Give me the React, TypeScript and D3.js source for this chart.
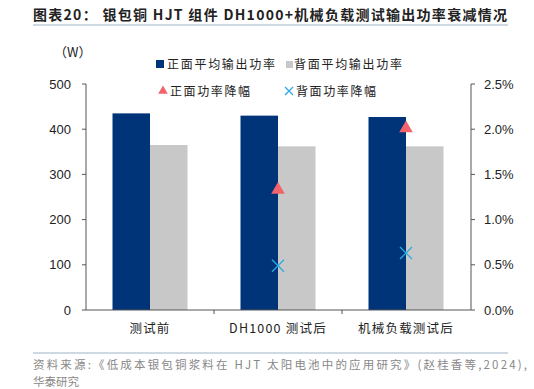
import React from "react";
import * as d3 from "d3";

const categories = ["测试前", "DH1000 测试后", "机械负载测试后"];
const frontPower = [435, 430, 427];
const backPower = [365, 362, 362];
const frontDrop: (number | null)[] = [null, 0.0133, 0.0201];
const backDrop: (number | null)[] = [null, 0.0049, 0.0063];
const leftTicks = [0, 100, 200, 300, 400, 500];
const rightTicks = [0, 0.005, 0.01, 0.015, 0.02, 0.025];

const W = 534, H = 389;
const FONT = "'Liberation Sans', Arial, sans-serif";
const CJK = "'Noto Sans CJK SC', sans-serif";
const NAVY = "#003479";
const GRAY = "#C8C8C8";
const RED = "#F2636B";
const CYAN = "#29ABE2";

export default function App() {
  const x0 = 86, x1 = 471;
  const yTop = 84, yBot = 310;
  const x = d3.scaleBand<string>().domain(categories).range([x0, x1 - 1]).paddingInner(0).paddingOuter(0);
  const yL = d3.scaleLinear().domain([0, 500]).range([yBot, yTop]);
  const yR = d3.scaleLinear().domain([0, 0.025]).range([yBot, yTop]);
  const bw = 37.5;
  const fmtPct = d3.format(".1%");

  return (
    <svg width={W} height={H} style={{ position: "absolute", left: 0, top: 0, background: "#fff" }}>
      <text x={33} y={20} fontFamily={CJK} fontWeight="bold" fontSize={14} fill="#222" textLength={474} lengthAdjust="spacing">
        图表20：  银包铜 HJT 组件 DH1000+机械负载测试输出功率衰减情况
      </text>
      <line x1={33} x2={508} y1={25} y2={25} stroke="#9DB3C8" strokeWidth={1} />

      <text x={54} y={57} fontFamily={CJK} fontSize={13} fill="#222">（W）</text>

      {/* legend */}
      <rect x={156} y={60} width={8} height={8} fill={NAVY} />
      <text x={167} y={68.5} fontFamily={CJK} fontSize={12} fill="#222" textLength={108} lengthAdjust="spacing">正面平均输出功率</text>
      <rect x={286} y={61} width={7} height={7} fill={GRAY} />
      <text x={294} y={68.5} fontFamily={CJK} fontSize={12} fill="#222" textLength={108} lengthAdjust="spacing">背面平均输出功率</text>
      <path d={d3.symbol(d3.symbolTriangle, 40)()!} transform="translate(163,91)" fill={RED} />
      <text x={170} y={96} fontFamily={CJK} fontSize={12} fill="#222" textLength={80} lengthAdjust="spacing">正面功率降幅</text>
      <path d="M-4,-4L4,4M-4,4L4,-4" transform="translate(289,91)" stroke={CYAN} strokeWidth={1.3} fill="none" />
      <text x={296} y={96} fontFamily={CJK} fontSize={12} fill="#222" textLength={80} lengthAdjust="spacing">背面功率降幅</text>

      {/* bars */}
      {categories.map((c, i) => {
        const cx = x(c)! + x.bandwidth() / 2;
        return (
          <g key={c}>
            <rect x={cx - bw} y={yL(frontPower[i])} width={bw} height={yBot - yL(frontPower[i])} fill={NAVY} />
            <rect x={cx} y={yL(backPower[i])} width={bw} height={yBot - yL(backPower[i])} fill={GRAY} />
          </g>
        );
      })}

      {/* markers */}
      {categories.map((c, i) => {
        const cx = x(c)! + x.bandwidth() / 2;
        const f = frontDrop[i];
        const b = backDrop[i];
        return (
          <g key={"m" + c}>
            {f != null && (
              <path d={d3.symbol(d3.symbolTriangle, 80)()!} transform={`translate(${cx},${yR(f)})`} fill={RED} />
            )}
            {b != null && (
              <path d="M-6,-6L6,6M-6,6L6,-6" transform={`translate(${cx},${yR(b)})`} stroke={CYAN} strokeWidth={1.3} fill="none" />
            )}
          </g>
        );
      })}

      {/* left axis */}
      <line x1={x0} x2={x0} y1={yTop} y2={yBot} stroke="#555" />
      {leftTicks.map((t) => (
        <g key={"l" + t}>
          <line x1={x0 - 4} x2={x0} y1={yL(t)} y2={yL(t)} stroke="#555" />
          <text x={x0 - 15} y={yL(t) + 4.5} textAnchor="end" fontFamily={FONT} fontSize={13} fill="#222">{t}</text>
        </g>
      ))}

      {/* right axis */}
      <line x1={x1} x2={x1} y1={yTop} y2={yBot} stroke="#555" />
      {rightTicks.map((t) => (
        <g key={"r" + t}>
          <line x1={x1} x2={x1 + 4} y1={yR(t)} y2={yR(t)} stroke="#555" />
          <text x={x1 + 13} y={yR(t) + 4.5} textAnchor="start" fontFamily={FONT} fontSize={13} fill="#222">{fmtPct(t)}</text>
        </g>
      ))}

      {/* x axis */}
      <line x1={x0} x2={x1} y1={yBot} y2={yBot} stroke="#555" />
      {categories.map((c, i) => (
        <g key={"x" + c}>
          {i > 0 && <line x1={x(c)!} x2={x(c)!} y1={yBot} y2={yBot + 4} stroke="#555" />}
          <text x={x(c)! + x.bandwidth() / 2} y={yBot + 23} textAnchor="middle" fontFamily={CJK} fontSize={12.5} fill="#222" letterSpacing={1.2}>{c}</text>
        </g>
      ))}

      <line x1={33} x2={508} y1={353} y2={353} stroke="#9DB3C8" strokeWidth={1} />
      <text x={33} y={369} fontFamily={CJK} fontSize={11.5} fill="#888" textLength={494} lengthAdjust="spacing">
        资料来源:《低成本银包铜浆料在 HJT 太阳电池中的应用研究》(赵桂香等,2024),
      </text>
      <text x={33} y={386} fontFamily={CJK} fontSize={11.5} fill="#888">华泰研究</text>
    </svg>
  );
}
